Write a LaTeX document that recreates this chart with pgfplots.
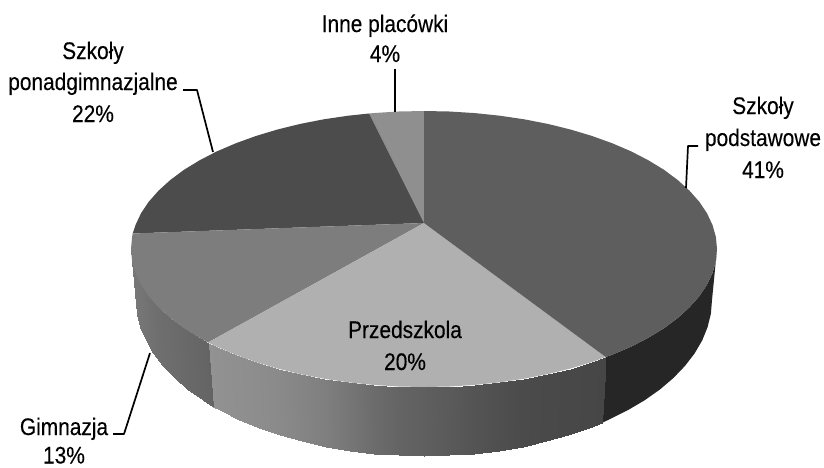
\documentclass[border=0pt]{standalone}
\usepackage{fontspec}
\setmainfont[FakeStretch=0.87,FakeBold=0.25]{Liberation Sans}
\usepackage{pgfplots}
\pgfplotsset{compat=1.18}
\tikzset{
  lab/.style={anchor=base,font=\fontsize{24}{24}\selectfont,text=black,inner sep=0pt},
  lead/.style={black,line width=1.7pt,line join=round},
}
\begin{document}
\begin{tikzpicture}
\begin{axis}[
  width=824pt,height=467pt,scale only axis,
  xmin=0,xmax=824,ymin=0,ymax=467,y dir=reverse,
  hide axis,enlargelimits=false,clip=true,
  colormap={g}{gray(0cm)=(0); gray(255cm)=(1)},
  point meta min=0,point meta max=255,
]
\addplot[fill=white,draw=none,no markers] coordinates {(0,0)(824,0)(824,467)(0,467)} -- cycle;
% side walls
\addplot[fill=black!85,draw=none,no markers] coordinates {(717,249)(715.9,261)(712.5,273)(707,284.7)(699.3,296.2)(689.5,307.3)(677.7,318)(664,328.2)(648.4,337.7)(631.2,346.6)(612.3,354.7)(605.7,357)(601.7,423)(609.1,419.5)(627.6,410.3)(644.6,400.3)(659.9,389.5)(673.4,378)(685,365.9)(694.6,353.4)(702.2,340.4)(707.6,327.1)(710.9,313.6)(712,300)} -- cycle;
\addplot[surf,shader=interp,mesh/rows=19,mesh/cols=2,point meta=explicit] table[x=x,y=y,meta=g] {
x y g
208 342.5 146
213.3 406.5 146
216.8 346.6 145
220.4 410.3 145
235.7 354.7 143
238.9 419.5 143
255.9 362 141
258.8 427.8 141
277.5 368.5 138
280 435.1 138
300.2 374.1 133
302.3 441.4 133
323.8 378.7 127
325.5 446.6 127
348.2 382.3 118
349.5 450.7 118
373.1 384.9 108
374 453.6 108
398.5 386.5 100
398.9 455.4 100
424 387 95
424 456 95
449.5 386.5 90
449.1 455.4 90
474.9 384.9 84
474 453.6 84
499.8 382.3 79
498.5 450.7 79
524.2 378.7 75
522.5 446.6 75
547.8 374.1 73
545.7 441.4 73
570.5 368.5 72
568 435.1 72
592.1 362 71
589.2 427.8 71
605.7 357 70
601.7 423 70
};
\addplot[surf,shader=interp,mesh/rows=10,mesh/cols=2,point meta=explicit] table[x=x,y=y,meta=g] {
x y g
131 249 122
136 300 122
132.1 261 120
137.1 313.6 120
135.5 273 118
140.4 327.1 118
141 284.7 116
145.8 340.4 116
148.7 296.2 113
153.4 353.4 113
158.5 307.3 110
163 365.9 110
170.3 318 108
174.6 378 108
184 328.2 105
188.1 389.5 105
199.6 337.7 102
203.4 400.3 102
208 342.5 100
213.3 406.5 100
};
% top faces
\addplot[fill=black!44,draw=none,no markers] coordinates {(424,223)(424,111)(398.5,111.5)(373.1,113.1)(369,113.5)} -- cycle;
\addplot[fill=black!70,draw=none,no markers] coordinates {(424,223)(369,113.5)(348.2,115.7)(323.8,119.3)(300.2,123.9)(277.5,129.5)(255.9,136)(235.7,143.3)(216.8,151.4)(199.6,160.3)(184,169.8)(170.3,180)(158.5,190.7)(148.7,201.8)(141,213.3)(135.5,225)(132.7,233.5)} -- cycle;
\addplot[fill=black!51,draw=none,no markers] coordinates {(424,223)(132.7,233.5)(132.1,237)(131,249)(132.1,261)(135.5,273)(141,284.7)(148.7,296.2)(158.5,307.3)(170.3,318)(184,328.2)(199.6,337.7)(208,342.5)} -- cycle;
\addplot[fill=black!31,draw=none,no markers] coordinates {(424,223)(208,342.5)(216.8,346.6)(235.7,354.7)(255.9,362)(277.5,368.5)(300.2,374.1)(323.8,378.7)(348.2,382.3)(373.1,384.9)(398.5,386.5)(424,387)(449.5,386.5)(474.9,384.9)(499.8,382.3)(524.2,378.7)(547.8,374.1)(570.5,368.5)(592.1,362)(605.7,357)} -- cycle;
\addplot[fill=black!63,draw=none,no markers] coordinates {(424,223)(605.7,357)(612.3,354.7)(631.2,346.6)(648.4,337.7)(664,328.2)(677.7,318)(689.5,307.3)(699.3,296.2)(707,284.7)(712.5,273)(715.9,261)(717,249)(715.9,237)(712.5,225)(707,213.3)(699.3,201.8)(689.5,190.7)(677.7,180)(664,169.8)(648.4,160.3)(631.2,151.4)(612.3,143.3)(592.1,136)(570.5,129.5)(547.8,123.9)(524.2,119.3)(499.8,115.7)(474.9,113.1)(449.5,111.5)(424,111)} -- cycle;
% leader lines
\addplot[lead,no markers] coordinates {(395,69)(395,112)};
\addplot[lead,no markers] coordinates {(183,90)(197,90)(213,152)};
\addplot[lead,no markers] coordinates {(698,146)(688,146)(686,188)};
\addplot[lead,no markers] coordinates {(150,353)(124,434)(113,434)};
% labels
\node[lab] at (axis cs:385,32) {Inne placówki};
\node[lab] at (axis cs:385,62) {4\%};
\node[lab] at (axis cs:93,59) {Szkoły};
\node[lab] at (axis cs:93,90) {ponadgimnazjalne};
\node[lab] at (axis cs:93,122) {22\%};
\node[lab] at (axis cs:763,114) {Szkoły};
\node[lab] at (axis cs:763,146) {podstawowe};
\node[lab] at (axis cs:763,178) {41\%};
\node[lab] at (axis cs:405,338) {Przedszkola};
\node[lab] at (axis cs:405,370) {20\%};
\node[lab] at (axis cs:64,435) {Gimnazja};
\node[lab] at (axis cs:64,463.5) {13\%};
\end{axis}
\end{tikzpicture}
\end{document}
